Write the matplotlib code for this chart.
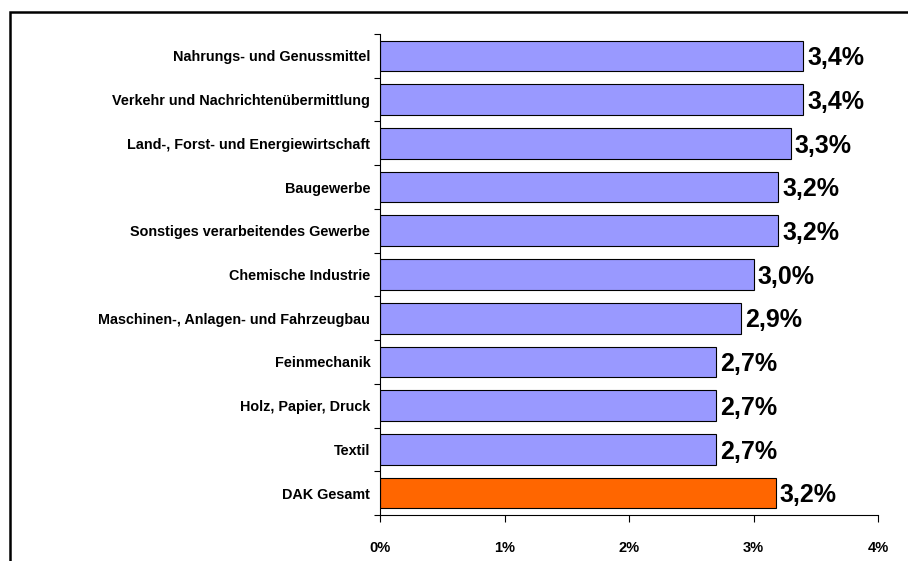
import matplotlib
matplotlib.use("Agg")
import matplotlib.pyplot as plt
from matplotlib.patches import Rectangle
from matplotlib.ticker import FixedLocator

plt.rcParams['font.family'] = ['Liberation Sans', 'DejaVu Sans']

categories = ["Nahrungs- und Genussmittel",
              "Verkehr und Nachrichtenübermittlung",
              "Land-, Forst- und Energiewirtschaft",
              "Baugewerbe",
              "Sonstiges verarbeitendes Gewerbe",
              "Chemische Industrie",
              "Maschinen-, Anlagen- und Fahrzeugbau",
              "Feinmechanik",
              "Holz, Papier, Druck",
              "Textil",
              "DAK Gesamt"]
values = [3.4, 3.4, 3.3, 3.2, 3.2, 3.0, 2.9, 2.7, 2.7, 2.7, 3.18]
value_labels = ["3,4%", "3,4%", "3,3%", "3,2%", "3,2%", "3,0%",
                "2,9%", "2,7%", "2,7%", "2,7%", "3,2%"]
xticks = [0, 1, 2, 3, 4]
xtick_labels = ["0%", "1%", "2%", "3%", "4%"]

colors = ["#9999FF"] * (len(categories) - 1) + ["#FF6600"]

fig = plt.figure(figsize=(9.08, 5.61), dpi=100)
ax = fig.add_axes([380 / 908, 1 - 515 / 561, 498 / 908, 481 / 561])

n = len(categories)
ypos = list(range(n - 1, -1, -1))
ax.barh(ypos, values, height=0.7, color=colors, edgecolor="black", linewidth=0.8)

for y, v, lab in zip(ypos, values, value_labels):
    ax.text(v + 0.03, y - 0.05, lab, va="center", ha="left",
            fontsize=18, fontweight="bold")

ax.set_xlim(0, 4)
ax.set_ylim(-0.5, n - 0.5)
ax.set_xticks(xticks)
ax.set_xticklabels(xtick_labels, fontsize=10.5, fontweight="bold")
ax.set_yticks(ypos)
ax.set_yticklabels(categories, fontsize=10.4, fontweight="bold")
ax.tick_params(axis="y", which="major", length=0, pad=7)
ax.yaxis.set_minor_locator(FixedLocator([i - 0.5 for i in range(n + 1)]))
ax.tick_params(axis="y", which="minor", length=4, width=0.8, direction="out")
ax.tick_params(axis="x", length=5, width=0.8, direction="out", pad=14)

for s in ["top", "right"]:
    ax.spines[s].set_visible(False)
for s in ["left", "bottom"]:
    ax.spines[s].set_linewidth(0.8)

fig.patches.append(Rectangle((10 / 908, -0.05), 1.0, 1 - 12 / 561 + 0.05,
                             transform=fig.transFigure, fill=False,
                             edgecolor="black", linewidth=1.8))

fig.savefig("out.png", dpi=100)
